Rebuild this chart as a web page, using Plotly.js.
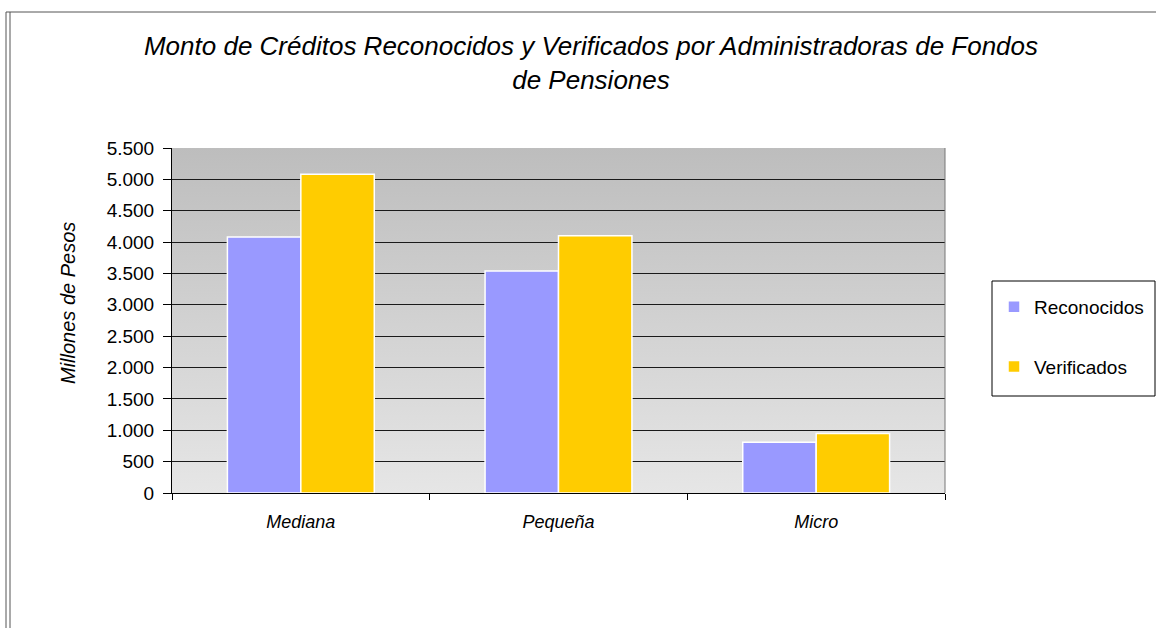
<!DOCTYPE html>
<html>
<head>
<meta charset="utf-8">
<script src="https://cdn.plot.ly/plotly-3.0.1.min.js"></script>
<style>
html,body{margin:0;padding:0;background:#fff;}
#chart{width:1156px;height:628px;}
</style>
</head>
<body>
<div id="chart"></div>
<script>
const categories = ["Mediana", "Pequeña", "Micro"];
const reconocidos = [4080, 3540, 810];
const verificados = [5080, 4100, 950];
const seriesNames = ["Reconocidos", "Verificados"];
const yTicks = [0, 500, 1000, 1500, 2000, 2500, 3000, 3500, 4000, 4500, 5000, 5500];

const L = 172, R = 945, T = 148, B = 493, W = 1156, H = 628;
const px = x => (x - L) / (R - L);
const py = y => (B - y) / (B - T);

const gradSvg = '<svg xmlns="http://www.w3.org/2000/svg" width="10" height="100" preserveAspectRatio="none">' +
  '<defs><linearGradient id="g" x1="0" y1="0" x2="0" y2="1">' +
  '<stop offset="0" stop-color="#bdbdbd"/><stop offset="1" stop-color="#e6e6e6"/>' +
  '</linearGradient></defs><rect width="10" height="100" fill="url(#g)"/></svg>';
const gradUri = 'data:image/svg+xml;base64,' + btoa(gradSvg);

const font = "Liberation Sans, Arial, sans-serif";

const traces = [
  {type: 'bar', name: seriesNames[0], x: categories, y: reconocidos, legendgroup: 'a',
   marker: {color: '#9999ff', line: {color: '#ffffff', width: 1.5}}},
  {type: 'bar', name: seriesNames[1], x: categories, y: verificados, legendgroup: 'b',
   marker: {color: '#ffcc00', line: {color: '#ffffff', width: 1.5}}}
];

const lineC = '#555555';
const layout = {
  width: W, height: H,
  margin: {l: L, r: W - R, t: T, b: H - B, pad: 0, autoexpand: false},
  paper_bgcolor: '#ffffff',
  plot_bgcolor: 'rgba(0,0,0,0)',
  separators: ',.',
  font: {family: font, color: '#000'},
  barmode: 'group',
  bargap: 0.43,
  bargroupgap: 0,
  title: {
    text: '<i>Monto de Créditos Reconocidos y Verificados por Administradoras de Fondos<br>de Pensiones</i>',
    font: {family: font, size: 26, color: '#000'},
    xref: 'paper', x: px(591), xanchor: 'center',
    yref: 'container', y: 1 - 55 / H, yanchor: 'top'
  },
  xaxis: {
    type: 'category',
    tickson: 'boundaries', ticks: 'outside', ticklen: 6, tickcolor: '#000',
    showline: true, linecolor: '#000', linewidth: 1,
    showgrid: false,
    tickfont: {family: font, size: 18, color: '#000', style: 'italic'},
    ticklabelstandoff: 12,
    fixedrange: true
  },
  yaxis: {
    range: [0, 5500],
    tickvals: yTicks,
    tickformat: ',d',
    separatethousands: true,
    ticks: 'outside', ticklen: 8, tickcolor: '#000',
    showline: true, linecolor: '#000', linewidth: 1,
    showgrid: true, gridcolor: '#1a1a1a', gridwidth: 1,
    zeroline: false,
    tickfont: {family: font, size: 19, color: '#000'},
    ticklabelstandoff: 5,
    fixedrange: true
  },
  showlegend: true,
  legend: {
    x: px(994), xanchor: 'left', y: py(288), yanchor: 'top',
    bgcolor: 'rgba(0,0,0,0)', borderwidth: 0,
    font: {family: font, size: 19, color: '#000'},
    traceorder: 'grouped', tracegroupgap: 32
  },
  annotations: [{
    text: '<i>Millones de Pesos</i>', textangle: -90,
    xref: 'paper', yref: 'paper', x: px(68), y: py(303),
    xanchor: 'center', yanchor: 'middle', showarrow: false,
    font: {family: font, size: 20, color: '#000'}
  }],
  images: [{
    source: gradUri, xref: 'paper', yref: 'paper', x: 0, y: 1,
    sizex: 1, sizey: 1, xanchor: 'left', yanchor: 'top',
    sizing: 'stretch', layer: 'below'
  }],
  shapes: [
    {type: 'line', xref: 'paper', yref: 'paper', x0: 1, x1: 1, y0: 0, y1: 1, line: {color: '#777', width: 1}},
    {type: 'rect', xref: 'paper', yref: 'paper', x0: px(992), x1: px(1155), y0: py(396), y1: py(281), line: {color: '#000', width: 1}},
    {type: 'line', xref: 'paper', yref: 'paper', x0: px(6), x1: px(6), y0: py(12), y1: py(640), line: {color: lineC, width: 1}},
    {type: 'line', xref: 'paper', yref: 'paper', x0: px(10), x1: px(10), y0: py(12), y1: py(640), line: {color: lineC, width: 1}},
    {type: 'line', xref: 'paper', yref: 'paper', x0: px(6), x1: px(1170), y0: py(12), y1: py(12), line: {color: lineC, width: 1}}
  ]
};

Plotly.newPlot('chart', traces, layout, {displayModeBar: false, staticPlot: true});
</script>
</body>
</html>
